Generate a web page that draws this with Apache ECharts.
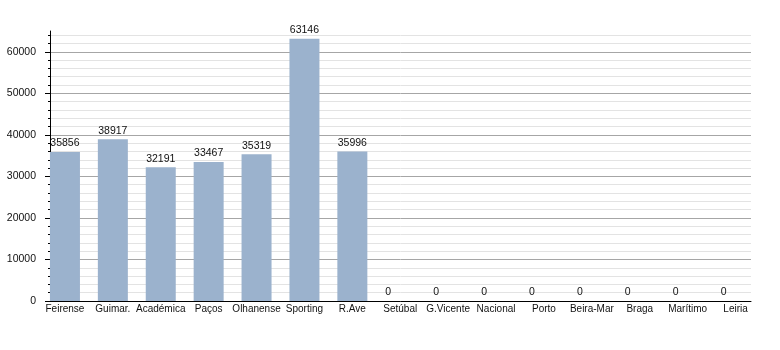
<!DOCTYPE html>
<html><head><meta charset="utf-8">
<script src="https://cdn.jsdelivr.net/npm/echarts@6/dist/echarts.min.js"></script>
<style>html,body{margin:0;padding:0;background:#fff}#c{width:780px;height:350px}</style>
</head><body><div id="c"></div>
<script>
const categories = ['Feirense','Guimar.','Académica','Paços','Olhanense','Sporting','R.Ave','Setúbal','G.Vicente','Nacional','Porto','Beira-Mar','Braga','Marítimo','Leiria'];
const attendance = [35856,38917,32191,33467,35319,63146,35996,0,0,0,0,0,0,0,0];
const yMajorTicks = [0,10000,20000,30000,40000,50000,60000];
const yGridTicks = [0,2000,4000,6000,8000,10000,12000,14000,16000,18000,20000,22000,24000,26000,28000,30000,32000,34000,36000,38000,40000,42000,44000,46000,48000,50000,52000,54000,56000,58000,60000,62000,64000];
const yMax = 65000;

const chart = echarts.init(document.getElementById('c'), null, {renderer:'canvas'});
const font = '"Liberation Sans", Arial, sans-serif';
const gridColors = ['#a6a6a6','#e3e3e3','#e3e3e3','#e3e3e3','#e3e3e3'];
const barData = attendance.map(v => v === 0 ? {value: v, label: {offset: [-12, 0]}} : v);
const option = {
  animation: false,
  backgroundColor: '#fff',
  grid: [
    {left: 50, top: 31, width: 701, height: 270},
    {left: 41, top: 31, width: 718.5, height: 270}
  ],
  xAxis: [
    {gridIndex: 0, type: 'value', min: 0, max: 1,
     axisLine: {show: true, lineStyle: {color: '#000'}},
     axisTick: {show: false}, axisLabel: {show: false}, splitLine: {show: false}},
    {gridIndex: 1, type: 'category', data: categories,
     axisLine: {show: false}, axisTick: {show: false},
     axisLabel: {interval: 0, margin: 3, fontSize: 10, color: '#111', fontFamily: font}}
  ],
  yAxis: [
    {gridIndex: 0, type: 'value', position: 'left', min: 0, max: yMax, interval: 2000,
     axisLine: {show: true, lineStyle: {color: '#000'}},
     axisTick: {show: true, length: 2, customValues: yGridTicks, lineStyle: {color: '#000'}},
     axisLabel: {show: false},
     splitLine: {show: true, lineStyle: {color: gridColors, width: 1}}},
    {gridIndex: 0, type: 'value', position: 'left', min: 0, max: yMax, interval: 10000,
     axisLine: {show: false},
     axisTick: {show: true, length: 5, customValues: yMajorTicks, lineStyle: {color: '#000'}},
     axisLabel: {customValues: yMajorTicks, margin: 14, fontSize: 10.5, color: '#111', fontFamily: font,
                 formatter: v => String(v)},
     splitLine: {show: false}},
    {gridIndex: 1, type: 'value', min: 0, max: yMax, show: false}
  ],
  series: [{
    type: 'bar', xAxisIndex: 1, yAxisIndex: 2, barWidth: 30,
    data: barData,
    itemStyle: {color: '#9bb2cd'},
    label: {show: true, position: 'top', distance: 3, fontSize: 10.5, color: '#111', fontFamily: font}
  }]
};
chart.setOption(option);
</script>
</body></html>
